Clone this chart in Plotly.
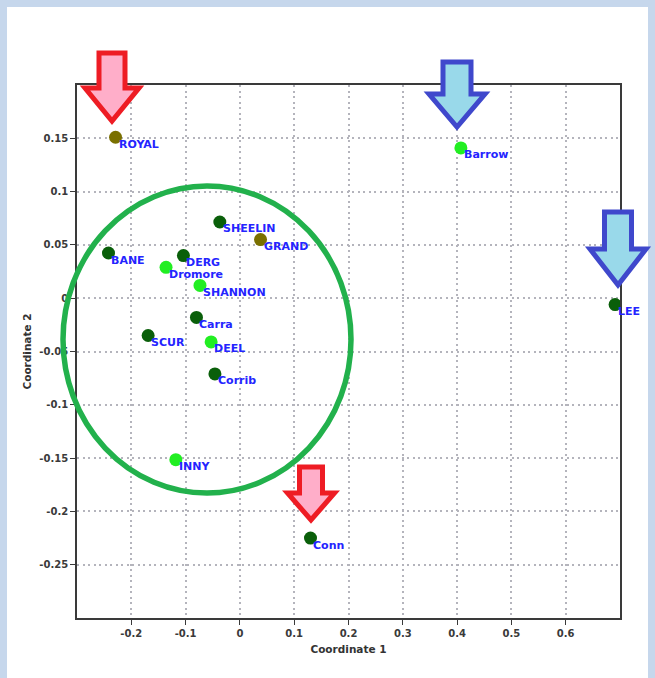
import plotly.graph_objects as go

# ---- data ----
names = ["ROYAL", "Barrow", "SHEELIN", "GRAND", "BANE", "DERG", "Dromore", "SHANNON",
         "LEE", "Carra", "SCUR", "DEEL", "Corrib", "INNY", "Conn"]
coord1 = [-0.229, 0.407, -0.037, 0.038, -0.242, -0.104, -0.136, -0.0735,
          0.691, -0.080, -0.169, -0.053, -0.046, -0.118, 0.130]
coord2 = [0.151, 0.141, 0.0715, 0.055, 0.0424, 0.040, 0.029, 0.012,
          -0.006, -0.018, -0.035, -0.041, -0.071, -0.1515, -0.225]
group = ["olive", "light", "dark", "olive", "dark", "dark", "light", "light",
         "dark", "dark", "dark", "light", "dark", "light", "dark"]

x_ticks = [-0.2, -0.1, 0, 0.1, 0.2, 0.3, 0.4, 0.5, 0.6]
x_ticktext = ["-0.2", "-0.1", "0", "0.1", "0.2", "0.3", "0.4", "0.5", "0.6"]
y_ticks = [0.15, 0.1, 0.05, 0, -0.05, -0.1, -0.15, -0.2, -0.25]
y_ticktext = ["0.15", "0.1", "0.05", "0", "-0.05", "-0.1", "-0.15", "-0.2", "-0.25"]

group_colors = {"olive": "#7a7000", "light": "#22ee22", "dark": "#0a5f0a"}

# ---- layout geometry ----
W, H = 655, 678
L, R, T, B = 77, 35, 85, 60
PW, PH = W - L - R, H - T - B


def px(x):
    return (x - L) / PW


def py(y):
    return (H - B - y) / PH


fig = go.Figure()
fig.add_trace(go.Scatter(
    x=coord1, y=coord2, mode="markers",
    marker=dict(size=13, color=[group_colors[g] for g in group], line=dict(width=0)),
    hoverinfo="text", text=names, showlegend=False,
))

annotations = []
for n, xv, yv in zip(names, coord1, coord2):
    annotations.append(dict(
        x=xv, y=yv, xref="x", yref="y", text=n, showarrow=False,
        xanchor="left", yanchor="middle", xshift=1, yshift=-7,
        font=dict(family="DejaVu Sans", size=11, color="#2424ff", weight="bold"),
    ))

shapes = []
# white slide panel
shapes.append(dict(type="rect", xref="paper", yref="paper",
                   x0=px(7), x1=px(648), y0=py(H + 5), y1=py(7),
                   fillcolor="white", line=dict(width=0), layer="below"))


def arrow(tx, ty, sw, hw, y0, y1, line_c, fill_c):
    pts = [(tx - sw, y0), (tx + sw, y0), (tx + sw, y1), (tx + hw, y1), (tx, ty),
           (tx - hw, y1), (tx - sw, y1)]
    path = "M " + " L ".join(f"{px(a):.5f},{py(b):.5f}" for a, b in pts) + " Z"
    return dict(type="path", xref="paper", yref="paper", path=path,
                fillcolor=fill_c, line=dict(color=line_c, width=5), layer="above")


red, pink = "#ee1c24", "#ffaec9"
blue, cyan = "#3f48cc", "#99d9ea"
shapes.append(arrow(112, 121, 13, 27, 53, 88, red, pink))
shapes.append(arrow(457, 127, 14, 28, 62, 94, blue, cyan))
shapes.append(arrow(618, 285, 13.5, 28, 212, 249, blue, cyan))
shapes.append(arrow(311, 520, 11.5, 23.5, 467, 493, red, pink))

# green ellipse
shapes.append(dict(type="circle", xref="paper", yref="paper",
                   x0=px(63), x1=px(351), y0=py(493), y1=py(186),
                   line=dict(color="#22b14c", width=5.5), layer="above"))

axis_common = dict(
    showline=True, linecolor="#3a3a3a", linewidth=1.6, mirror=True,
    ticks="outside", ticklen=5, tickcolor="#3a3a3a", tickwidth=1.2,
    showgrid=True, gridcolor="#b4b4bc", griddash="2px,3.5px", gridwidth=1.8,
    zeroline=False,
    tickfont=dict(family="DejaVu Sans", size=10, color="#3a3a3a", weight="bold"),
)

fig.update_layout(
    width=W, height=H,
    margin=dict(l=L, r=R, t=T, b=B),
    paper_bgcolor="#c6d7ec",
    plot_bgcolor="#efeffc",
    xaxis=dict(range=[-0.3, 0.7], tickvals=x_ticks, ticktext=x_ticktext,
               title=dict(text="Coordinate 1", standoff=8,
                          font=dict(family="DejaVu Sans", size=10.5, color="#333333", weight="bold")),
               **axis_common),
    yaxis=dict(range=[-0.3, 0.2], tickvals=y_ticks, ticktext=y_ticktext,
               title=dict(text="Coordinate 2", standoff=6,
                          font=dict(family="DejaVu Sans", size=10.5, color="#333333", weight="bold")),
               **axis_common),
    shapes=shapes,
    annotations=annotations,
)

fig.write_html("out.html", config={"displayModeBar": False},
               post_script="document.body.style.margin='0';document.body.style.overflow='hidden';")
